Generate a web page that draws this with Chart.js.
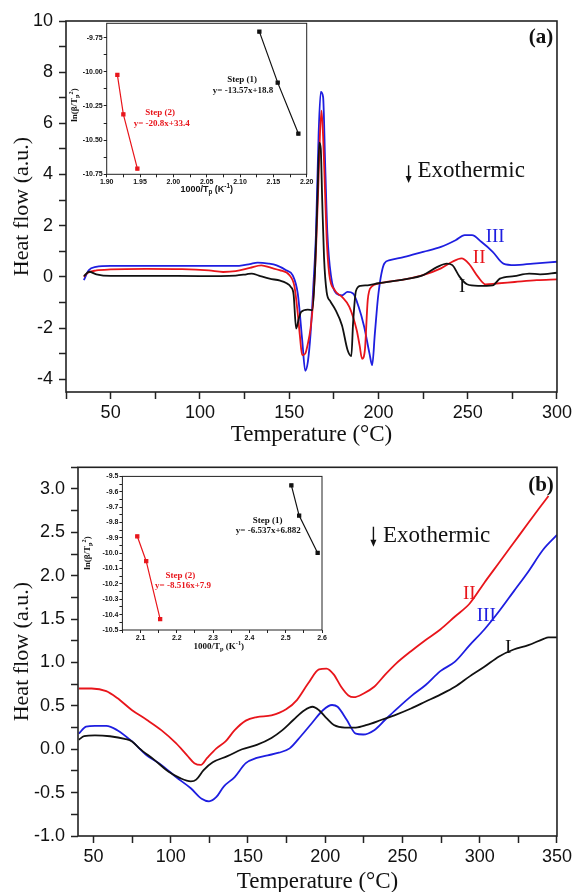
<!DOCTYPE html>
<html><head><meta charset="utf-8">
<script src="https://cdn.jsdelivr.net/npm/chart.js@4.4.1/dist/chart.umd.min.js"></script>
<style>
html,body{margin:0;padding:0;background:#fff;}
#wrap{position:relative;width:575px;height:892px;overflow:hidden;background:#fff}
canvas{position:absolute;}
</style></head><body>
<div id="wrap">
<canvas id="ca" width="575" height="450" style="left:0;top:0"></canvas>
<canvas id="cb" width="575" height="442" style="left:0;top:450px"></canvas>
<canvas id="cai" width="260" height="195" style="left:60px;top:10px"></canvas>
<canvas id="cbi" width="260" height="200" style="left:80px;top:460px"></canvas>
</div>
<script>
// ---------- Panel (a) data ----------
const aT_I  = [35, 38, 42, 50, 75, 100, 120, 126, 129, 133, 139, 145, 148.3, 151, 152.5, 153.9, 155.5, 156.7, 160.4, 163, 164.5, 165.8, 166.9, 167.7, 168.5, 169.5, 171, 173, 176, 179.6, 182.7, 184.8, 185.8, 187.4, 190, 194, 200, 214.6, 225, 233, 238.3, 241.4, 245.5, 249.6, 255.8, 264, 268, 276, 284.4, 290.5, 300];
const aHF_I = [0.03, 0.2, 0.1, 0.04, 0.04, 0.03, 0.05, 0.1, 0.13, 0.05, -0.07, -0.15, -0.24, -0.4, -0.7, -2.02, -1.6, -1.37, -1.28, -1.3, 0.3, 3.0, 5.25, 5.0, 3.0, 0.8, -0.6, -0.95, -1.3, -1.9, -2.86, -3.1, -1.8, -0.55, -0.35, -0.33, -0.25, -0.1, 0.07, 0.39, 0.52, 0.46, 0.0, -0.29, -0.35, -0.33, -0.07, 0.03, 0.13, 0.1, 0.16];
const aT_II  = [35, 37, 42, 50, 70, 90, 105, 113, 120, 128, 134.4, 140, 144.6, 150.2, 153, 154.8, 156, 157.3, 159, 160.5, 162, 163.5, 165, 166.3, 167.2, 168.1, 169, 170, 171, 172.4, 175.5, 179.6, 183.7, 187.8, 189.5, 190.8, 192.4, 194, 196.1, 200, 214.6, 225, 235, 241.4, 246.5, 250.6, 255.8, 260, 266, 276.3, 288.7, 300];
const aHF_II = [0.0, 0.15, 0.25, 0.29, 0.31, 0.3, 0.25, 0.19, 0.22, 0.35, 0.45, 0.35, 0.26, 0.06, -0.39, -1.43, -2.3, -3.06, -3.0, -2.6, -2.0, -0.9, 1.0, 3.5, 5.5, 6.5, 5.5, 3.5, 1.5, 0.13, -0.52, -0.78, -1.17, -2.08, -2.7, -3.2, -2.86, -0.91, -0.39, -0.26, -0.1, 0.07, 0.33, 0.59, 0.72, 0.52, 0.0, -0.29, -0.26, -0.2, -0.13, -0.1];
const aT_III  = [35, 37.7, 41.8, 50, 75, 100, 122, 128, 132.3, 138.5, 143, 148.3, 152, 154.8, 157.3, 159, 160.5, 162, 163.5, 165, 166.5, 167.7, 169, 170.2, 171.4, 173.5, 176.5, 179.6, 182.7, 185.8, 188.9, 192, 195, 196.5, 198, 200, 203.3, 206.4, 214.6, 225, 235, 243.2, 248.3, 252.4, 257.6, 264, 270, 276.3, 286.6, 300];
const aHF_III = [-0.13, 0.26, 0.39, 0.43, 0.43, 0.43, 0.43, 0.5, 0.56, 0.52, 0.45, 0.26, 0.06, -0.65, -2.47, -3.67, -3.3, -2.2, -0.4, 1.69, 5.6, 7.23, 7.03, 4.3, 1.69, 0.0, -0.65, -0.72, -0.59, -0.65, -1.17, -1.95, -3.0, -3.45, -2.21, -0.65, 0.52, 0.65, 0.78, 0.98, 1.17, 1.43, 1.63, 1.63, 1.37, 0.98, 0.52, 0.46, 0.52, 0.59];
const aXLabels = [50, 100, 150, 200, 250, 300];
const aYLabels = [-4, -2, 0, 2, 4, 6, 8, 10];

// ---------- Inset (a) data ----------
const aiX_1 = [2.129, 2.1565, 2.1875];
const aiY_1 = [-9.706, -10.079, -10.452];
const aiX_2 = [1.916, 1.925, 1.946];
const aiY_2 = [-10.023, -10.311, -10.709];
const aiXLabels = [1.90, 1.95, 2.00, 2.05, 2.10, 2.15, 2.20];
const aiYLabels = [-9.75, -10.00, -10.25, -10.50, -10.75];

// ---------- Panel (b) data ----------
const bT_I  = [40.5, 44, 51, 60.7, 70.2, 75, 79.7, 89.2, 98.7, 105.8, 113, 116.5, 121.3, 127.2, 136.7, 146.2, 155.7, 165.2, 172.3, 179.5, 186.6, 191.8, 196, 200.8, 205.6, 212.7, 219.8, 227, 236.5, 246, 255.5, 265, 274.5, 284, 293.5, 303, 312.5, 322, 331.5, 341, 344.5, 350];
const bHF_I = [0.11, 0.15, 0.16, 0.15, 0.12, 0.09, 0.01, -0.12, -0.26, -0.33, -0.37, -0.35, -0.24, -0.15, -0.08, 0.0, 0.05, 0.13, 0.22, 0.34, 0.45, 0.49, 0.45, 0.36, 0.28, 0.25, 0.25, 0.28, 0.34, 0.4, 0.47, 0.55, 0.63, 0.72, 0.84, 0.95, 1.07, 1.15, 1.2, 1.27, 1.29, 1.29];
const bT_II  = [40.5, 48.8, 58.3, 65.4, 75, 84.4, 93.9, 103.4, 110.6, 115.3, 119.6, 123.6, 129.6, 135.5, 141.4, 148.6, 155.7, 165.2, 174.7, 181.8, 189, 196, 200.8, 205.6, 210.3, 215, 218.6, 224.6, 231.7, 238.8, 246, 255.5, 265, 274.5, 284, 293.5, 303, 312.5, 322, 331.5, 338.6, 344.5];
const bHF_II = [0.70, 0.70, 0.67, 0.59, 0.45, 0.34, 0.22, 0.07, -0.07, -0.16, -0.18, -0.10, 0.01, 0.09, 0.22, 0.33, 0.37, 0.39, 0.46, 0.57, 0.76, 0.92, 0.93, 0.86, 0.72, 0.62, 0.60, 0.64, 0.72, 0.86, 0.99, 1.13, 1.26, 1.38, 1.53, 1.68, 1.92, 2.15, 2.38, 2.61, 2.78, 2.92];
const bT_III  = [40.5, 45.2, 51, 58.3, 65.4, 75, 84.4, 93.9, 103.4, 113, 120, 124.8, 129.6, 134.3, 141.4, 148.6, 155.7, 162.8, 170, 177, 184.2, 191.3, 198.5, 204.4, 208, 213.9, 219.8, 224.6, 231.7, 238.8, 246, 255.5, 265, 274.5, 284, 293.5, 303, 312.5, 322, 331.5, 341, 350];
const bHF_III = [0.18, 0.26, 0.27, 0.27, 0.22, 0.09, -0.07, -0.18, -0.32, -0.45, -0.57, -0.60, -0.55, -0.43, -0.32, -0.16, -0.10, -0.07, -0.04, 0.01, 0.15, 0.30, 0.45, 0.51, 0.49, 0.34, 0.18, 0.17, 0.22, 0.34, 0.46, 0.61, 0.74, 0.90, 1.01, 1.20, 1.38, 1.59, 1.82, 2.05, 2.30, 2.47];
const bXLabels = [50, 100, 150, 200, 250, 300, 350];
const bYLabels = [-1.0, -0.5, 0.0, 0.5, 1.0, 1.5, 2.0, 2.5, 3.0];

// ---------- Inset (b) data ----------
const biX_1 = [2.5156, 2.537, 2.588];
const biY_1 = [-9.558, -9.755, -9.998];
const biX_2 = [2.091, 2.1156, 2.154];
const biY_2 = [-9.89, -10.052, -10.429];
const biXLabels = [2.1, 2.2, 2.3, 2.4, 2.5, 2.6];
const biYLabels = [-9.5, -9.6, -9.7, -9.8, -9.9, -10.0, -10.1, -10.2, -10.3, -10.4, -10.5];

// ---------- helpers ----------
const BLACK = '#111111', RED = '#e8151b', BLUE = '#1e1ee0', AXIS = '#222222';
const SANS = '"Liberation Sans", Arial, sans-serif';
const SERIF = '"Liberation Serif", "Times New Roman", serif';
Chart.defaults.color = BLACK;

function pts(xs, ys) { return xs.map((x, i) => ({x: x, y: ys[i]})); }
function range(a, b, step) { const out = []; const n = Math.round((b - a) / step); for (let i = 0; i <= n; i++) out.push(+(a + i * step).toFixed(4)); return out; }
function labelCb(labels, digits) {
  return function (v) {
    const k = Math.round(v * 1000);
    const hit = labels.find(l => Math.round(l * 1000) === k);
    return hit === undefined ? '' : (digits === null ? String(hit) : hit.toFixed(digits));
  };
}
function setTicks(values) { return s => { s.ticks = values.map(v => ({value: v})); }; }

function drawRich(ctx, parts, cx, cy, rot, size, family, weight, color) {
  ctx.save();
  ctx.translate(cx, cy); ctx.rotate(rot);
  ctx.fillStyle = color; ctx.textBaseline = 'middle'; ctx.textAlign = 'left';
  let total = 0;
  parts.forEach(p => { const fs = (p.sub || p.sup) ? size * 0.7 : size; ctx.font = weight + ' ' + fs + 'px ' + family; p._w = ctx.measureText(p.t).width; p._fs = fs; total += p._w; });
  let x = -total / 2;
  parts.forEach(p => {
    ctx.font = weight + ' ' + p._fs + 'px ' + family;
    const dy = p.sub ? size * 0.3 : (p.sup ? -size * 0.38 : 0);
    ctx.fillText(p.t, x, dy); x += p._w;
  });
  ctx.restore();
}

function textPlugin(items) {
  return {
    id: 'texts',
    afterDraw(chart) {
      const ctx = chart.ctx, xs = chart.scales.x, ys = chart.scales.y, ca = chart.chartArea;
      items.forEach(it => {
        ctx.save();
        let px = it.x !== undefined ? xs.getPixelForValue(it.x) : (it.rx !== undefined ? ca.right - it.rx : it.cx);
        let py = it.y !== undefined ? ys.getPixelForValue(it.y) : (it.ty !== undefined ? ca.top + it.ty : it.cy);
        if (it.arrow) {
          const py2 = ys.getPixelForValue(it.y2);
          ctx.strokeStyle = it.color; ctx.fillStyle = it.color; ctx.lineWidth = 1.4;
          ctx.beginPath(); ctx.moveTo(px, py); ctx.lineTo(px, py2 - 5); ctx.stroke();
          ctx.beginPath(); ctx.moveTo(px - 3, py2 - 7); ctx.lineTo(px + 3, py2 - 7); ctx.lineTo(px, py2); ctx.closePath(); ctx.fill();
        } else if (it.rich) {
          drawRich(ctx, it.rich, px, py, it.rot || 0, it.size, it.family, it.weight, it.color);
        } else {
          ctx.font = it.font; ctx.fillStyle = it.color;
          ctx.textAlign = it.align || 'center'; ctx.textBaseline = 'middle';
          ctx.fillText(it.text, px, py);
        }
        ctx.restore();
      });
    }
  };
}

function framePlugin(width) {
  return {
    id: 'frame',
    afterDatasetsDraw(chart) {
      const {ctx, chartArea: a} = chart;
      ctx.save(); ctx.strokeStyle = AXIS; ctx.lineWidth = width;
      ctx.strokeRect(a.left, a.top, a.right - a.left, a.bottom - a.top);
      ctx.restore();
    }
  };
}

function lineDs(xs, ys, color) {
  return {data: pts(xs, ys), borderColor: color, backgroundColor: color, borderWidth: 1.8, pointRadius: 0, cubicInterpolationMode: 'monotone', fill: false};
}
function insetDs(xs, ys, color) {
  return {data: pts(xs, ys), borderColor: color, backgroundColor: color, borderWidth: 1.2, pointRadius: 2.2, pointStyle: 'rect', pointBackgroundColor: color, pointBorderColor: color, tension: 0, fill: false};
}

function mainConfig(p) {
  return {
    type: 'line',
    data: {datasets: p.datasets},
    options: {
      responsive: false, animation: false, devicePixelRatio: 1,
      layout: {padding: p.padding},
      plugins: {legend: {display: false}, tooltip: {enabled: false}},
      scales: {
        x: {
          type: 'linear', min: p.xmin, max: p.xmax,
          afterBuildTicks: setTicks(p.xticks),
          ticks: {callback: labelCb(p.xlabels, null), font: {family: SANS, size: 18}, color: BLACK, padding: 3, maxRotation: 0, autoSkip: false},
          grid: {drawOnChartArea: false, drawTicks: true, tickLength: 7, tickColor: AXIS, tickWidth: 1.5},
          border: {display: false},
          title: {display: true, text: 'Temperature (°C)', font: {family: SERIF, size: 23, lineHeight: 0.9}, color: BLACK, padding: {top: 0, bottom: p.xtitlePad}},
          afterFit: s => { s.height = p.xh; }
        },
        y: {
          type: 'linear', min: p.ymin, max: p.ymax,
          afterBuildTicks: setTicks(p.yticks),
          ticks: {callback: labelCb(p.ylabels, p.ydigits), font: {family: SANS, size: 18}, color: BLACK, padding: 6, autoSkip: false},
          grid: {drawOnChartArea: false, drawTicks: true, tickLength: 7, tickColor: AXIS, tickWidth: 1.5},
          border: {display: false},
          title: {display: true, text: 'Heat flow (a.u.)', font: {family: SERIF, size: 22, lineHeight: 1.2}, color: BLACK, padding: {top: 9, bottom: 0}},
          afterFit: s => { s.width = p.yw; }
        }
      }
    },
    plugins: [framePlugin(1.6), textPlugin(p.texts)]
  };
}

function insetConfig(p) {
  return {
    type: 'line',
    data: {datasets: p.datasets},
    options: {
      responsive: false, animation: false, devicePixelRatio: 1,
      layout: {padding: p.padding},
      plugins: {legend: {display: false}, tooltip: {enabled: false}},
      scales: {
        x: {
          type: 'linear', min: p.xmin, max: p.xmax,
          afterBuildTicks: setTicks(p.xticks),
          ticks: {callback: labelCb(p.xlabels, p.xdigits), font: {family: SANS, size: 7, weight: 'bold'}, color: BLACK, padding: 1, maxRotation: 0, autoSkip: false},
          grid: {drawOnChartArea: false, drawTicks: true, tickLength: 3, tickColor: AXIS, tickWidth: 1},
          border: {display: false},
          afterFit: s => { s.height = p.xh; }
        },
        y: {
          type: 'linear', min: p.ymin, max: p.ymax,
          afterBuildTicks: setTicks(p.yticks),
          ticks: {callback: labelCb(p.ylabels, p.ydigits), font: {family: SANS, size: 7, weight: 'bold'}, color: BLACK, padding: 1, autoSkip: false},
          grid: {drawOnChartArea: false, drawTicks: true, tickLength: 3, tickColor: AXIS, tickWidth: 1},
          border: {display: false},
          afterFit: s => { s.width = p.yw; }
        }
      }
    },
    plugins: [framePlugin(1), textPlugin(p.texts)]
  };
}

const expFont = '23px ' + SERIF;
const romanFont = '19px ' + SERIF;
const stepFont = 'bold 9px ' + SERIF;

// ---------- Panel (a) ----------
new Chart(document.getElementById('ca'), mainConfig({
  datasets: [lineDs(aT_I, aHF_I, BLACK), lineDs(aT_II, aHF_II, RED), lineDs(aT_III, aHF_III, BLUE)],
  padding: {top: 21, right: 18, left: 0, bottom: 0},
  xmin: 25, xmax: 300, xticks: range(25, 300, 25), xlabels: aXLabels,
  ymin: -4.5, ymax: 10, yticks: range(-4, 10, 1), ylabels: aYLabels, ydigits: null,
  xh: 58, yw: 66, xtitlePad: 4.6,
  texts: [
    {text: 'III', x: 265.4, y: 1.55, font: romanFont, color: BLUE},
    {text: 'II', x: 256.4, y: 0.73, font: romanFont, color: RED},
    {text: 'I', x: 246.9, y: -0.41, font: romanFont, color: BLACK},
    {text: '(a)', rx: 16, ty: 16.6, font: 'bold 21px ' + SERIF, color: BLACK},
    {arrow: true, x: 216.9, y: 4.36, y2: 3.67, color: BLACK},
    {text: 'Exothermic', x: 221.9, y: 4.14, font: expFont, color: BLACK, align: 'left'}
  ]
}));

// ---------- Panel (b) ----------
new Chart(document.getElementById('cb'), mainConfig({
  datasets: [lineDs(bT_I, bHF_I, BLACK), lineDs(bT_II, bHF_II, RED), lineDs(bT_III, bHF_III, BLUE)],
  padding: {top: 17.3, right: 17, left: 0, bottom: 0},
  xmin: 40, xmax: 350, xticks: range(50, 350, 25), xlabels: bXLabels,
  ymin: -1.0, ymax: 3.25, yticks: range(-1, 3.25, 0.25), ylabels: bYLabels, ydigits: 1,
  xh: 56, yw: 78, xtitlePad: 0,
  texts: [
    {text: 'II', x: 293.2, y: 1.79, font: romanFont, color: RED},
    {text: 'III', x: 304.2, y: 1.54, font: romanFont, color: BLUE},
    {text: 'I', x: 318.4, y: 1.17, font: romanFont, color: BLACK},
    {text: '(b)', rx: 16, ty: 18.7, font: 'bold 21px ' + SERIF, color: BLACK},
    {arrow: true, x: 231.2, y: 2.565, y2: 2.335, color: BLACK},
    {text: 'Exothermic', x: 237.4, y: 2.46, font: expFont, color: BLACK, align: 'left'}
  ]
}));

// ---------- Inset (a) ----------
new Chart(document.getElementById('cai'), insetConfig({
  datasets: [insetDs(aiX_1, aiY_1, BLACK), insetDs(aiX_2, aiY_2, RED)],
  padding: {top: 13.3, right: 13.3, left: 0, bottom: 0},
  xmin: 1.9, xmax: 2.2, xticks: range(1.9, 2.2, 0.025), xlabels: aiXLabels, xdigits: 2,
  ymin: -10.75, ymax: -9.645, yticks: range(-10.75, -9.75, 0.125), ylabels: aiYLabels, ydigits: 2,
  xh: 30.7, yw: 46.7,
  texts: [
    {text: 'Step (1)', x: 2.103, y: -10.06, font: stepFont, color: BLACK},
    {text: 'y= -13.57x+18.8', x: 2.1045, y: -10.14, font: stepFont, color: BLACK},
    {text: 'Step (2)', x: 1.98, y: -10.298, font: stepFont, color: RED},
    {text: 'y= -20.8x+33.4', x: 1.9825, y: -10.382, font: stepFont, color: RED},
    {rich: [{t: '1000/T'}, {t: 'p', sub: true}, {t: ' (K'}, {t: '-1', sup: true}, {t: ')'}], cx: 146.7, cy: 180, size: 9, family: SANS, weight: 'bold', color: BLACK},
    {rich: [{t: 'ln(β/T'}, {t: 'p', sub: true}, {t: '2', sup: true}, {t: ')'}], cx: 15, cy: 95, rot: -Math.PI / 2, size: 9, family: SERIF, weight: 'bold', color: BLACK}
  ]
}));

// ---------- Inset (b) ----------
new Chart(document.getElementById('cbi'), insetConfig({
  datasets: [insetDs(biX_1, biY_1, BLACK), insetDs(biX_2, biY_2, RED)],
  padding: {top: 16.4, right: 18, left: 0, bottom: 0},
  xmin: 2.05, xmax: 2.6, xticks: range(2.05, 2.6, 0.05), xlabels: biXLabels, xdigits: 1,
  ymin: -10.5, ymax: -9.5, yticks: range(-10.5, -9.5, 0.05), ylabels: biYLabels, ydigits: 1,
  xh: 30, yw: 42.4,
  texts: [
    {text: 'Step (1)', x: 2.450, y: -9.786, font: stepFont, color: BLACK},
    {text: 'y= -6.537x+6.882', x: 2.452, y: -9.855, font: stepFont, color: BLACK},
    {text: 'Step (2)', x: 2.2096, y: -10.144, font: stepFont, color: RED},
    {text: 'y= -8.516x+7.9', x: 2.217, y: -10.209, font: stepFont, color: RED},
    {rich: [{t: '1000/T'}, {t: 'p', sub: true}, {t: ' (K'}, {t: '-1', sup: true}, {t: ')'}], cx: 138.8, cy: 186.7, size: 9, family: SERIF, weight: 'bold', color: BLACK},
    {rich: [{t: 'ln(β/T'}, {t: 'p', sub: true}, {t: '2', sup: true}, {t: ')'}], cx: 8, cy: 93, rot: -Math.PI / 2, size: 9, family: SERIF, weight: 'bold', color: BLACK}
  ]
}));
</script>
</body></html>
